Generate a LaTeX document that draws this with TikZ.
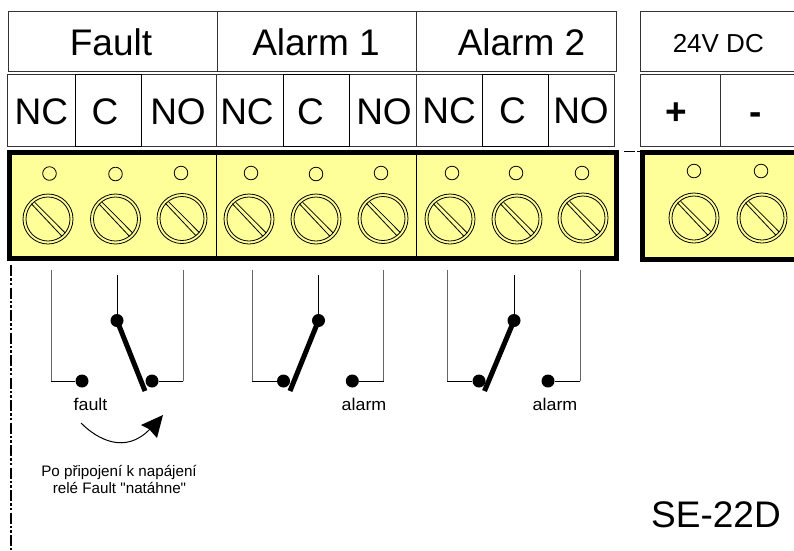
\documentclass[tikz,border=0pt]{standalone}
\usepackage{fontspec}
\setmainfont{Liberation Sans}
\newfontfamily\rawsans{Liberation Sans}
\definecolor{termyellow}{HTML}{FFFF99}
\definecolor{boxline}{HTML}{333333}
\definecolor{wiregray}{HTML}{666666}
\tikzset{
  cellbox/.style={draw=boxline,line width=0.9pt,rectangle,inner sep=0pt},
  darkcell/.style={cellbox,draw=black,line width=0.9pt},
  bigtext/.style={font=\fontsize{37}{37}\selectfont,inner sep=0pt,anchor=base},
  smalltext/.style={font=\fontsize{26}{26}\selectfont,inner sep=0pt,anchor=base},
  frameline/.style={draw=black,line width=5pt,fill=termyellow,miter limit=10},
  screwline/.style={draw=black,line width=0.8pt},
  wirev/.style={draw=wiregray,line width=1pt},
  wireh/.style={draw=black,line width=1pt},
  contact/.style={circle,fill=black,inner sep=0pt,minimum size=13pt},
  blade/.style={draw=black,line width=5pt},
  minilabel/.style={font=\fontsize{17}{17}\selectfont,inner sep=0pt,anchor=base,xscale=1.05},
  notelabel/.style={font=\rawsans\fontsize{15.2}{15.2}\selectfont,inner sep=0pt,anchor=base},
}
% name, style, x0, y0, x1, y1
\newcommand{\Cell}[6]{%
  \node[#2,minimum width={(#5-#3)*1pt},minimum height={(#6-#4)*1pt}] (#1) at ({(#3+#5)/2},{(#4+#6)/2}) {};}
\newcommand{\Screw}[4]{% screw x, screw y, hole x, hole y
  \begin{scope}[shift={(#1,#2)}]
    \draw[screwline] (0,0) circle[radius=25];
    \draw[screwline] (0,0) circle[radius=22];
    \draw[screwline] (-16.7,-15.3) -- (14,17.3);
    \draw[screwline] (-13.3,-16.7) -- (17.3,14);
  \end{scope}
  \draw[screwline] (#3,#4) circle[radius=6.8];}
\newcommand{\Relay}[7]{% prefix, leftx, leftdot, comx, rightdot, rightx, bladeendx
  \coordinate (#1LT) at (#2,270);
  \coordinate (#1LB) at (#2,381);
  \coordinate (#1RT) at (#6,270);
  \coordinate (#1RB) at (#6,381);
  \coordinate (#1CT) at (#4,275);
  \coordinate (#1BE) at (#7,391);
  \node[contact] (#1NC) at (#3,381) {};
  \node[contact] (#1NO) at (#5,381) {};
  \node[contact] (#1COM) at (#4,320.5) {};
  \draw[wirev] (#1LT) -- (#1LB);
  \draw[wirev] (#1RT) -- (#1RB);
  \draw[wireh] (#1LB) -- (#1NC);
  \draw[wireh] (#1RB) -- (#1NO);
  \draw[wireh] (#1CT) -- (#1COM);
  \draw[blade] (#1COM.center) -- (#1BE);}
\begin{document}
\begin{tikzpicture}[x=1pt,y=-1pt]
\useasboundingbox (0,0) rectangle (794,550);
\clip (0,0) rectangle (794,550);
\fill[white] (0,0) rectangle (794,550);
% header boxes
\Cell{fault}{cellbox}{8}{11}{217}{71}
\Cell{alarmA}{cellbox}{217}{11}{416}{71}
\Cell{alarmB}{cellbox}{416}{11}{616}{71}
\Cell{power}{cellbox}{640}{11}{810}{71}
\node[bigtext] (tfault) at (111,55) {Fault};
\node[bigtext] (talarmA) at (316,55) {Alarm 1};
\node[bigtext] (talarmB) at (521.5,55) {Alarm 2};
\node[smalltext] (tpower) at (718.3,52) {24V DC};
% contact boxes
\Cell{fnc}{cellbox}{7}{74}{75}{146}
\Cell{fno}{cellbox}{141}{74}{216}{146}
\Cell{anc}{cellbox}{216}{74}{283}{146}
\Cell{ano}{cellbox}{349}{74}{416}{146}
\Cell{bnc}{cellbox}{416}{74}{482}{146}
\Cell{bno}{cellbox}{548}{74}{614.5}{146}
\Cell{minus}{cellbox}{720}{74}{810}{146}
\Cell{fc}{darkcell}{75}{74}{141}{146}
\Cell{ac}{darkcell}{283}{74}{349}{146}
\Cell{bc}{darkcell}{482}{74}{548}{146}
\Cell{plus}{cellbox}{640}{74}{720}{146}
\node[bigtext] (t1) at (41.3,124) {NC};
\node[bigtext] (t2) at (105,124) {C};
\node[bigtext] (t3) at (178,124) {NO};
\node[bigtext] (t4) at (247,124) {NC};
\node[bigtext] (t5) at (310.5,124) {C};
\node[bigtext] (t6) at (384,124) {NO};
\node[bigtext] (t7) at (449,123.5) {NC};
\node[bigtext] (t8) at (512.5,123.5) {C};
\node[bigtext] (t9) at (581,123.5) {NO};
\node[bigtext] (t10) at (676.5,124) {\textbf{+}};
\node[bigtext] (t11) at (756,124) {\textbf{-}};
% terminal blocks
\draw[frameline] (9.5,152.5) rectangle (616.5,258.5);
\draw[frameline] (642,152.5) rectangle (810,259.5);
\draw[black,line width=1pt] (216.5,155) -- (216.5,256);
\draw[black,line width=1pt] (416.5,155) -- (416.5,256);
% screws
\Screw{48}{219}{49.5}{173.5}
\Screw{115.5}{219}{115.5}{174}
\Screw{182}{218.5}{181}{173}
\Screw{249}{219}{251}{173}
\Screw{316}{219}{316}{174}
\Screw{383}{218.5}{381}{173}
\Screw{450}{219}{452}{173}
\Screw{517}{219}{516}{173}
\Screw{583}{218}{582}{173}
\Screw{694}{218}{694}{171}
\Screw{762}{218}{761}{171}
% dash-dot lines
\coordinate (axisTop) at (10.7,265);
\coordinate (axisBot) at (10.7,550);
\draw[black,line width=2.3pt,dash pattern=on 11pt off 2.3pt on 2.3pt off 2.3pt on 2.3pt off 2.3pt] (axisTop) -- (axisBot);
\coordinate (gapL) at (624,151.5);
\coordinate (gapR) at (640,151.5);
\draw[black,line width=1.4pt,dash pattern=on 11pt off 2pt on 3pt off 2pt] (gapL) -- (gapR);
% relays
\Relay{f}{51}{82}{117}{152}{183}{145}
\Relay{a}{252}{283.5}{318.5}{352.3}{383.5}{290}
\Relay{b}{447}{479}{514}{548}{580}{484.5}
% labels
\node[minilabel] (lfault) at (90.5,410) {fault};
\node[minilabel] (lalarmA) at (364,410.7) {alarm};
\node[minilabel] (lalarmB) at (555,410) {alarm};
\node[notelabel] (noteA) at (119,476) {Po připojení k napájení};
\node[notelabel] (noteB) at (119.5,493) {relé Fault "natáhne"};
\node[bigtext] (model) at (716,527) {SE-22D};
% curved arrow
\coordinate (arrS) at (81,423);
\coordinate (arrE) at (150,429);
\draw[black,line width=1pt] (arrS) .. controls (97,439) and (125,455) .. (arrE);
\fill[black] (163,415) -- (141,425) -- (149,429) -- (157,438) -- cycle;
\end{tikzpicture}
\end{document}
